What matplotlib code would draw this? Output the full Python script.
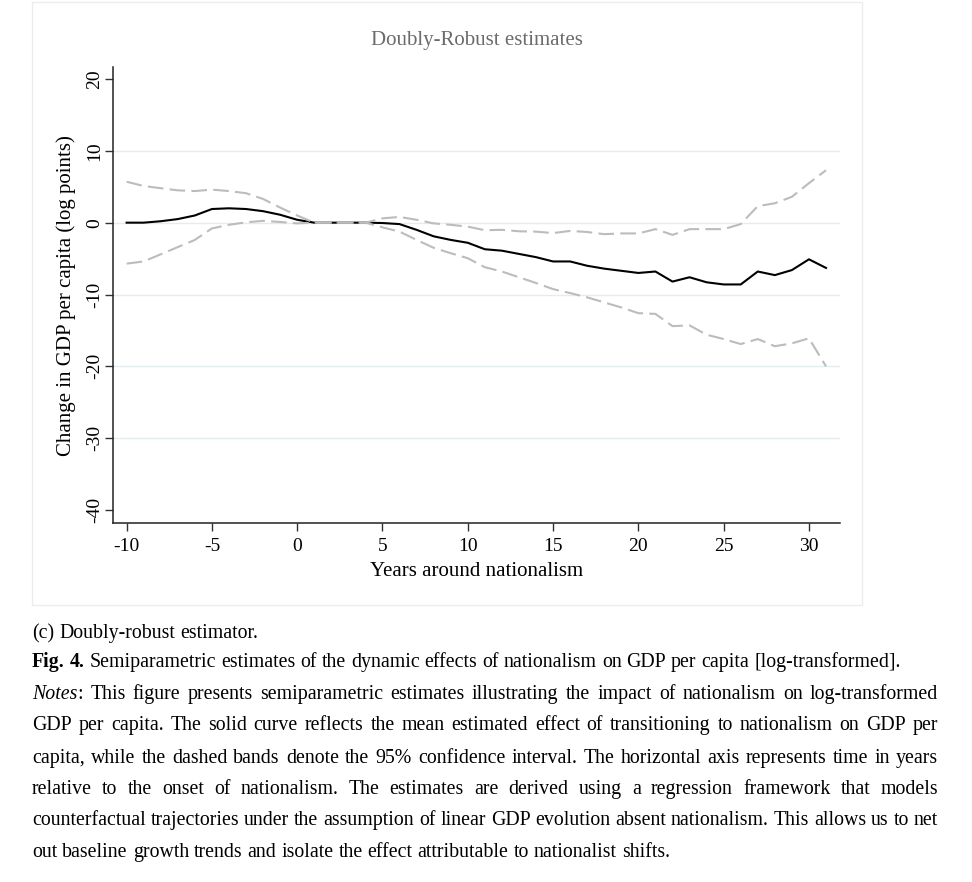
import numpy as np
import matplotlib
matplotlib.use("Agg")
import matplotlib.pyplot as plt
from matplotlib.patches import Rectangle

# years relative to the onset of nationalism
years = np.arange(-10, 32)

# mean estimated effect (log points)
effect = [0.0, 0.0, 0.2, 0.5, 1.0, 1.9, 2.0, 1.9, 1.6, 1.1,
          0.4, 0.0, 0.0, 0.0, 0.0, -0.05, -0.2, -1.0, -1.9, -2.4,
          -2.8, -3.7, -3.9, -4.35, -4.8, -5.4, -5.4, -6.0, -6.4, -6.7,
          -7.0, -6.8, -8.2, -7.6, -8.3, -8.6, -8.6, -6.8, -7.3, -6.6,
          -5.1, -6.3]

# 95% confidence bands
upper = [5.7, 5.1, 4.8, 4.5, 4.4, 4.6, 4.4, 4.1, 3.3, 2.1,
         1.0, 0.0, 0.0, 0.0, 0.0, 0.6, 0.8, 0.4, -0.1, -0.3,
         -0.55, -1.05, -1.0, -1.2, -1.25, -1.45, -1.15, -1.3, -1.6, -1.5,
         -1.5, -0.9, -1.7, -0.9, -0.9, -0.9, -0.2, 2.3, 2.7, 3.6,
         5.5, 7.3]
lower = [-5.7, -5.4, -4.4, -3.4, -2.4, -0.8, -0.3, 0.05, 0.25, 0.1,
         -0.1, 0.0, 0.0, 0.0, 0.0, -0.65, -1.25, -2.4, -3.5, -4.25,
         -4.95, -6.2, -6.8, -7.6, -8.4, -9.25, -9.8, -10.4, -11.1, -11.8,
         -12.6, -12.7, -14.4, -14.3, -15.6, -16.2, -16.9, -16.2, -17.2, -16.8,
         -16.1, -20.0]

x_ticks = [-10, -5, 0, 5, 10, 15, 20, 25, 30]
y_ticks = [-40, -30, -20, -10, 0, 10, 20]
grid_vals = [-30, -20, -10, 0, 10]

title = "Doubly-Robust estimates"
xlabel = "Years around nationalism"
ylabel = "Change in GDP per capita (log points)"

B = {"weight": "bold"}
I = {"style": "italic"}
N = {}
# caption lines: (segments, justified)
caption = [
    ([("(c) Doubly-robust estimator.", N)], False),
    ([("Fig. 4.", B), (" Semiparametric estimates of the dynamic effects of nationalism on GDP per capita [log-transformed].", N)], False),
    ([("Notes", I), (": This figure presents semiparametric estimates illustrating the impact of nationalism on log-transformed", N)], True),
    ([("GDP per capita. The solid curve reflects the mean estimated effect of transitioning to nationalism on GDP per", N)], True),
    ([("capita, while the dashed bands denote the 95% confidence interval. The horizontal axis represents time in years", N)], True),
    ([("relative to the onset of nationalism. The estimates are derived using a regression framework that models", N)], True),
    ([("counterfactual trajectories under the assumption of linear GDP evolution absent nationalism. This allows us to net", N)], True),
    ([("out baseline growth trends and isolate the effect attributable to nationalist shifts.", N)], False),
]
caption_baselines = [638, 667, 699, 730, 763, 794, 825, 857]

W, H = 972, 882
SERIF = ["Liberation Serif", "DejaVu Serif"]
plt.rcParams['font.family'] = SERIF
plt.rcParams['mathtext.fontset'] = 'custom'

fig = plt.figure(figsize=(W / 100, H / 100), dpi=100)
fig.patch.set_facecolor("white")

# graph region frame
fig.patches.append(Rectangle((32 / W, 1 - 605 / H), (862 - 32) / W, (605 - 2) / H,
                             transform=fig.transFigure, fill=False,
                             edgecolor="#ececec", lw=1))

ax_l, ax_r, ax_t, ax_b = 113.3, 840, 67, 523.3
ax = fig.add_axes([ax_l / W, 1 - ax_b / H, (ax_r - ax_l) / W, (ax_b - ax_t) / H])

for g in grid_vals:
    ax.axhline(g, color="#e4ecef", lw=1, zorder=0.5)

ax.plot(years, effect, color="black", lw=1.5, zorder=2)
ax.plot(years, upper, color="#bcbcbc", lw=1.5, dashes=(7.5, 3), zorder=3)
ax.plot(years, lower, color="#bcbcbc", lw=1.5, dashes=(7.5, 3), zorder=3)

ax.set_xlim(-10.78, 31.82)
ax.set_ylim(-41.85, 21.67)
ax.set_xticks(x_ticks)
ax.set_yticks(y_ticks)
ax.set_xticklabels([str(v) for v in x_ticks])
ax.set_yticklabels([str(v) for v in y_ticks])
for s in ["top", "right"]:
    ax.spines[s].set_visible(False)
for s in ["left", "bottom"]:
    ax.spines[s].set_linewidth(1.1)
    ax.spines[s].set_color("#222222")
ax.tick_params(axis="both", direction="out", length=5.8, width=1, color="#333333",
               labelsize=14)
ax.tick_params(axis="x", pad=5)
ax.tick_params(axis="y", pad=1.5, labelrotation=90)
for lab in ax.get_yticklabels():
    lab.set_va("center")

ax.set_xlabel(xlabel, fontsize=15, va="center")
ax.xaxis.set_label_coords(0.5, (ax_b - 571) / (ax_b - ax_t))
ax.set_ylabel(ylabel, fontsize=15, va="center")
ax.yaxis.set_label_coords((66 - ax_l) / (ax_r - ax_l), 0.5)

fig.text((ax_l + ax_r) / 2 / W, 1 - 45 / H, title, ha="center", va="baseline",
         fontsize=15, color="#6b6b6b")

# caption with justified lines
renderer = fig.canvas.get_renderer()


def measure(s, props, fs):
    t = fig.text(0, 0, s, fontsize=fs, **props)
    w = t.get_window_extent(renderer).width
    t.remove()
    return w


def split_words(segments):
    words = []
    for text, props in segments:
        parts = text.split(" ")
        for i, p in enumerate(parts):
            if not p:
                continue
            if i == 0 and words:
                words[-1].append((p, props))
            else:
                words.append([(p, props)])
    return words


def word_width(word, fs):
    return sum(measure(p, props, fs) for p, props in word)


left_px, right_px = 32, 938
probe = split_words(caption[1][0])
fs0 = 14
nat = sum(word_width(w, fs0) for w in probe) + 0.25 * fs0 * 100 / 72 * (len(probe) - 1)
cap_fs = fs0 * (903 - left_px) / nat
space = 0.25 * cap_fs * 100 / 72

for (segments, justify), base in zip(caption, caption_baselines):
    words = split_words(segments)
    widths = [word_width(w, cap_fs) for w in words]
    gap = space
    if justify and len(words) > 1:
        gap = (right_px - left_px - sum(widths)) / (len(words) - 1)
    x = left_px
    for w, ww in zip(words, widths):
        xx = x
        for p, props in w:
            fig.text(xx / W, 1 - base / H, p, fontsize=cap_fs, ha="left",
                     va="baseline", **props)
            xx += measure(p, props, cap_fs)
        x += ww + gap

fig.savefig("out.png", dpi=100, facecolor="white")
